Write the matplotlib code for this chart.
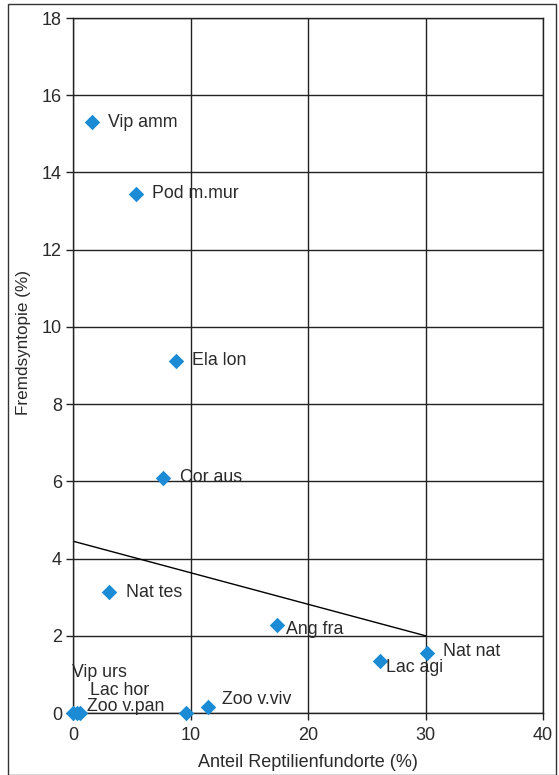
import matplotlib
matplotlib.use("Agg")
import matplotlib.pyplot as plt
from matplotlib.patches import Rectangle

plt.rcParams['font.family'] = ['Liberation Sans', 'DejaVu Sans']

# Arten: Anteil Reptilienfundorte (%) und Fremdsyntopie (%)
arten = ["Vip amm", "Pod m.mur", "Ela lon", "Cor aus", "Nat tes", "Ang fra",
         "Lac agi", "Nat nat", "Zoo v.viv", "", "Vip urs", "Lac hor", "Zoo v.pan"]
anteil = [1.6, 5.4, 8.8, 7.7, 3.1, 17.4, 26.1, 30.1, 11.5, 9.6, 0.0, 0.3, 0.6]
fremd = [15.3, 13.45, 9.12, 6.09, 3.13, 2.28, 1.35, 1.55, 0.16, 0.0, 0.0, 0.0, 0.0]

# Beschriftungsversatz (in Punkten) je Art
versatz = [(11.5, 0), (11.5, 0), (11.5, 0), (12, 0), (12, 0), (6.5, -3), (4.5, -4.5),
           (11.5, 1), (10, 5), (0, 0), (-1, 29), (9.7, 16.5), (5, 5)]

# Regressionsgerade
reg_x = [0, 30]
reg_y = [4.45, 2.0]

fig = plt.figure(figsize=(5.59, 7.75), dpi=100)
ax = fig.add_axes([73 / 559, 1 - 713 / 775, 470 / 559, 695 / 775])

ax.plot(reg_x, reg_y, color="black", lw=1.0, zorder=2)
ax.scatter(anteil, fremd, marker="D", s=62, color="#1b8bd6", zorder=3,
           clip_on=False, linewidths=0)
for name, x, y, (dx, dy) in zip(arten, anteil, fremd, versatz):
    if name:
        ax.annotate(name, (x, y), xytext=(dx, dy), textcoords="offset points",
                    fontsize=12.8, color="#2a2a2a", va="center", ha="left", zorder=4)

ax.set_xlim(0, 40)
ax.set_ylim(0, 18)
ax.set_xticks(range(0, 41, 10))
ax.set_yticks(range(0, 19, 2))
ax.grid(True, color="#222222", lw=1.0)
ax.set_axisbelow(True)
for s in ax.spines.values():
    s.set_color("#222222")
    s.set_linewidth(1.0)
ax.tick_params(axis="y", length=5, width=1, color="#222222", labelcolor="#2a2a2a",
               labelsize=13, pad=3)
ax.tick_params(axis="x", length=5, width=1, color="#222222", labelcolor="#2a2a2a",
               labelsize=13, pad=5)
ax.set_xlabel("Anteil Reptilienfundorte (%)", fontsize=13, color="#2a2a2a", labelpad=7)
ax.set_ylabel("Fremdsyntopie (%)", fontsize=12.3, color="#2a2a2a", va="center")
ax.yaxis.set_label_coords(-0.106, 0.533)

fig.patches.append(Rectangle((8 / 559, 0), 548 / 559, 771 / 775, transform=fig.transFigure,
                             fill=False, edgecolor="#333333", lw=1.0))

fig.savefig("out.png", dpi=100)
